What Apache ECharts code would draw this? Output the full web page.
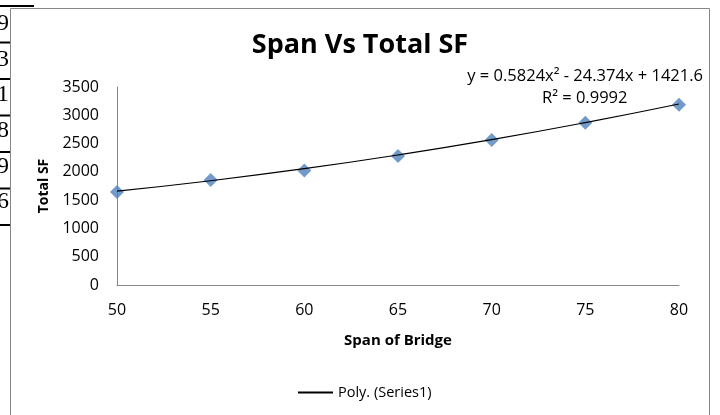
<!DOCTYPE html>
<html>
<head>
<meta charset="utf-8">
<script src="https://cdn.jsdelivr.net/npm/echarts@6/dist/echarts.min.js"></script>
<style>
html,body{margin:0;padding:0;background:#fff;}
#container{width:720px;height:415px;}
</style>
</head>
<body>
<div id="container"></div>
<script>
// span of bridge vs total SF
var spans = [50, 55, 60, 65, 70, 75, 80];
var totalSF = [1645, 1855, 2025, 2282, 2563, 2868, 3185];
// poly trendline at each span
var trendSF = [1659, 1843, 2056, 2298, 2569, 2870, 3199];
var yTicks = [0, 500, 1000, 1500, 2000, 2500, 3000, 3500];
var tableDigits = ['9', '3', '1', '8', '9', '6'];

var dom = document.getElementById("container");
var myChart = echarts.init(dom);

var pointData = spans.map(function (s, i) { return [s, totalSF[i]]; });
var trendData = spans.map(function (s, i) { return [s, trendSF[i]]; });

// left table fragment peeking out behind the chart
var tableGraphics = [];
tableDigits.forEach(function (d, i) {
    tableGraphics.push({
        type: 'text', left: -3, top: 12 + i * 35.6,
        style: { text: d, font: '24px "Liberation Serif"', fill: '#000' }
    });
});
for (var k = 0; k < 7; k++) {
    tableGraphics.push({
        type: 'rect',
        shape: { x: 0, y: 5 + k * 36.5, width: k === 0 ? 34 : 10, height: 2 },
        style: { fill: '#000' }
    });
}

option = {
    animation: false,
    backgroundColor: '#fff',
    title: {
        text: 'Span Vs Total SF',
        left: 'center',
        top: 27,
        textStyle: { fontFamily: 'Open Sans', fontWeight: 'bold', fontSize: 27, color: '#000' }
    },
    legend: {
        data: ['Poly. (Series1)'],
        left: 293,
        top: 380,
        icon: 'rect',
        itemWidth: 35,
        itemHeight: 2,
        itemGap: 4,
        textStyle: { fontFamily: 'Open Sans', fontSize: 14.5, color: '#000' }
    },
    grid: { left: 117, right: 41, top: 87, bottom: 130 },
    xAxis: {
        type: 'value',
        min: 50, max: 80, interval: 5,
        name: 'Span of Bridge',
        nameLocation: 'middle',
        nameGap: 48,
        nameTextStyle: { fontFamily: 'Open Sans', fontWeight: 'bold', fontSize: 15, color: '#000' },
        axisLine: { lineStyle: { color: '#868686', width: 1 } },
        axisTick: { show: false },
        splitLine: { show: false },
        axisLabel: { margin: 17, fontFamily: 'Open Sans', fontSize: 16, color: '#000' }
    },
    yAxis: {
        type: 'value',
        min: yTicks[0], max: yTicks[yTicks.length - 1], interval: 500,
        name: 'Total SF',
        nameLocation: 'middle',
        nameGap: 66,
        nameTextStyle: { fontFamily: 'Open Sans', fontWeight: 'bold', fontSize: 14, color: '#000' },
        axisLine: { show: true, lineStyle: { color: '#868686', width: 1 } },
        axisTick: { show: false },
        splitLine: { show: false },
        axisLabel: {
            margin: 18, fontFamily: 'Open Sans', fontSize: 16, color: '#000',
            formatter: function (v) { return String(v); }
        }
    },
    graphic: [
        {
            type: 'rect', silent: true,
            shape: { x: 10.5, y: 8.5, width: 699, height: 420 },
            style: { fill: null, stroke: '#868686', lineWidth: 1 }
        },
        {
            type: 'text', right: 17, top: 68,
            style: { text: 'y = 0.5824x² - 24.374x + 1421.6', font: '16.5px "Open Sans"', fill: '#000' }
        },
        {
            type: 'text', left: 542, top: 90,
            style: { text: 'R² = 0.9992', font: '16.5px "Open Sans"', fill: '#000' }
        }
    ].concat(tableGraphics),
    series: [
        {
            name: 'Series1',
            type: 'scatter',
            symbol: 'diamond',
            symbolSize: 14,
            itemStyle: { color: '#4F81BD' },
            data: pointData,
            z: 2
        },
        {
            name: 'Poly. (Series1)',
            type: 'line',
            smooth: true,
            symbol: 'none',
            color: '#000',
            itemStyle: { color: '#000' },
            lineStyle: { color: '#000', width: 1.2 },
            data: trendData,
            z: 3
        }
    ]
};

if (option && typeof option === "object") {
    myChart.setOption(option, true);
}
</script>
</body>
</html>
